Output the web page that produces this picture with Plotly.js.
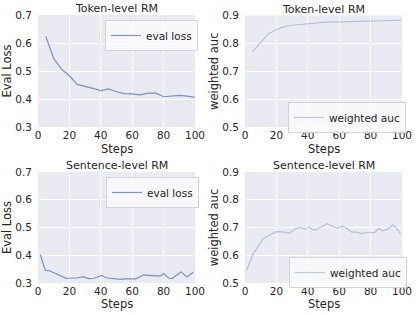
<!DOCTYPE html>
<html>
<head>
<meta charset="utf-8">
<script src="https://cdn.plot.ly/plotly-3.0.1.min.js"></script>
<style>html,body{margin:0;padding:0;background:#fff;}#chart{width:416px;height:315px;}</style>
</head>
<body>
<div id="chart"></div>
<script>
// Token-level RM
const tokenSteps = [5,10,15,20,25,30,35,40,45,50,55,60,65,70,75,80,85,90,95,100];
const tokenEvalLoss = [0.623,0.545,0.506,0.483,0.452,0.446,0.438,0.430,0.436,0.426,0.419,0.418,0.415,0.421,0.421,0.408,0.410,0.413,0.410,0.406];
const tokenAuc = [0.771,0.803,0.835,0.850,0.860,0.865,0.868,0.871,0.873,0.875,0.876,0.877,0.878,0.879,0.880,0.881,0.881,0.882,0.882,0.883];
// Sentence-level RM
const sentLossSteps = [1.5,4.6,7.4,9.9,13.7,17.9,22.1,25.2,28.4,32.2,35.8,40.4,44.2,48.4,52.6,55.8,58.9,62.1,67.4,70.5,74.7,78.5,80,83.1,85.3,88.4,91.2,94.7,98.9];
const sentEvalLoss = [0.402,0.346,0.344,0.338,0.326,0.317,0.318,0.318,0.323,0.316,0.317,0.327,0.318,0.316,0.313,0.315,0.315,0.315,0.329,0.327,0.326,0.326,0.335,0.318,0.316,0.329,0.340,0.322,0.339];
const sentAucSteps = [1,5.1,9.3,11.6,15.8,19.9,24.1,28.3,32.4,35.6,37.7,40.8,44,48.1,52.3,55.4,58.6,61.7,64.8,68,71.1,73.8,76.3,80.5,82.6,85.1,87.8,91,94.1,96.2,98.9];
const sentAuc = [0.544,0.604,0.640,0.660,0.673,0.685,0.684,0.679,0.697,0.700,0.693,0.702,0.690,0.700,0.714,0.706,0.697,0.705,0.697,0.683,0.683,0.678,0.681,0.682,0.682,0.696,0.688,0.694,0.710,0.700,0.678];

const titles = ["Token-level RM","Token-level RM","Sentence-level RM","Sentence-level RM"];
const xTickVals = [0,20,40,60,80,100];
const xTitle = 'Steps';

const txt = '#262626';
const lossColor = 'rgba(76,114,176,0.72)';
const aucColor = 'rgba(76,114,176,0.35)';
const font = 'DejaVu Sans, sans-serif';

const traces = [
  {x: tokenSteps, y: tokenEvalLoss, name: 'eval loss', xaxis:'x', yaxis:'y', legend:'legend', line:{color:lossColor,width:1.2}, mode:'lines'},
  {x: tokenSteps, y: tokenAuc, name: 'weighted auc', xaxis:'x2', yaxis:'y2', legend:'legend2', line:{color:aucColor,width:1.2}, mode:'lines'},
  {x: sentLossSteps, y: sentEvalLoss, name: 'eval loss', xaxis:'x3', yaxis:'y3', legend:'legend3', line:{color:lossColor,width:1.2}, mode:'lines'},
  {x: sentAucSteps, y: sentAuc, name: 'weighted auc', xaxis:'x4', yaxis:'y4', legend:'legend4', line:{color:aucColor,width:1.2}, mode:'lines'}
];

const W = 416, H = 315;
const xd = [[38/W,195/W],[245/W,402/W],[38/W,195/W],[245/W,402/W]];
const yd = [[1-127/H,1-15/H],[1-127/H,1-15.5/H],[1-283/H,1-172/H],[1-283/H,1-172/H]];
const xTitleY = [1-148.5/H,1-148.5/H,1-304/H,1-304/H];
const yTitles = ['Eval Loss','weighted auc','Eval Loss','weighted auc'];
const yRanges = [[0.3,0.7],[0.5,0.9],[0.3,0.7],[0.5,0.9]];

const layout = {
  width: W, height: H,
  margin: {l:0,r:0,t:0,b:0},
  paper_bgcolor: '#ffffff',
  plot_bgcolor: '#eaeaf2',
  font: {family: font, color: txt, size: 10.5},
  showlegend: true,
  annotations: []
};

for (let i = 0; i < 4; i++) {
  const s = i === 0 ? '' : String(i+1);
  layout['xaxis'+s] = {
    domain: xd[i], anchor: 'y'+s, range: [0,100], tickvals: xTickVals,
    showgrid: true, gridcolor: '#ffffff', gridwidth: 1, zeroline: false, showline: false,
    ticks: '', ticklabelstandoff: 0, tickfont: {size: 10.5, color: txt}
  };
  layout['yaxis'+s] = {
    domain: yd[i], anchor: 'x'+s, range: yRanges[i], dtick: 0.1, tick0: 0.3, tickformat: '.1f',
    showgrid: true, gridcolor: '#ffffff', gridwidth: 1, zeroline: false, showline: false,
    ticks: '', ticklabelstandoff: 5, tickfont: {size: 10.5, color: txt},
    title: {text: yTitles[i], font: {size: 11.5, color: txt}, standoff: 1}
  };
  layout.annotations.push({
    text: titles[i], xref: 'paper', yref: 'paper',
    x: (xd[i][0]+xd[i][1])/2, y: yd[i][1], xanchor: 'center', yanchor: 'bottom', yshift: -2,
    showarrow: false, font: {size: 11, color: txt}
  });
  layout.annotations.push({
    text: xTitle, xref: 'paper', yref: 'paper',
    x: (xd[i][0]+xd[i][1])/2, y: xTitleY[i], xanchor: 'center', yanchor: 'middle',
    showarrow: false, font: {size: 11.5, color: txt}
  });
}

const legBase = {bgcolor: 'rgba(250,250,252,0.85)', bordercolor: '#d2d2da', borderwidth: 1,
  font: {size: 10.5, color: txt}, xanchor: 'left', yanchor: 'top', itemwidth: 30, tracegroupgap: 0};
layout.legend = Object.assign({}, legBase, {x: 105/W, y: 1-20/H});
layout.legend2 = Object.assign({}, legBase, {x: 288/W, y: 1-102/H});
layout.legend3 = Object.assign({}, legBase, {x: 106/W, y: 1-177/H});
layout.legend4 = Object.assign({}, legBase, {x: 289/W, y: 1-257/H});

Plotly.newPlot('chart', traces, layout, {displayModeBar: false, staticPlot: true});
</script>
</body>
</html>
